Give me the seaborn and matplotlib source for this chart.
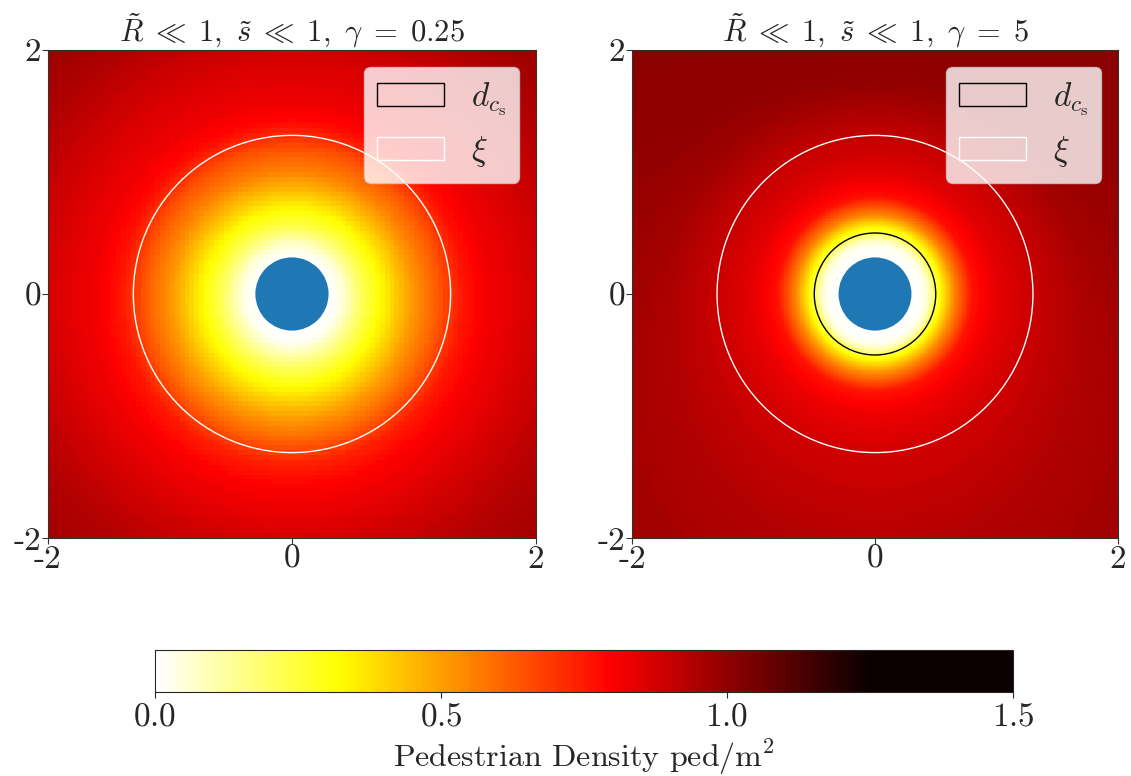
import matplotlib
matplotlib.use("Agg")
import matplotlib.pyplot as plt
import matplotlib.transforms as mtransforms
import numpy as np
import pandas as pd
import seaborn as sns
from matplotlib.colors import ListedColormap
from matplotlib.patches import Circle

# panel settings
titles = [
    r"$\tilde{R}\;\ll\;1,\ \tilde{s}\;\ll\;1,\ \gamma\;=\;0.25$",
    r"$\tilde{R}\;\ll\;1,\ \tilde{s}\;\ll\;1,\ \gamma\;=\;5$",
]
grid_sizes = [100, 300]
obstacle_radius = 0.3
xi_radius = [1.3, 1.3]
dcs_radius = [0.2, 0.5]

radius_low = [0.3, 0.4, 0.5, 0.6, 0.7, 0.8, 0.9, 1.0, 1.2, 1.4, 1.6, 2.0, 2.4, 2.9]
density_low_up = [0.0, 0.06, 0.17, 0.26, 0.33, 0.41, 0.48, 0.55, 0.65, 0.78, 0.83, 0.88, 0.94, 0.99]
density_low_down = [0.0, 0.02, 0.11, 0.20, 0.28, 0.35, 0.42, 0.49, 0.61, 0.74, 0.80, 0.87, 0.93, 0.97]

radius_high = [0.3, 0.4, 0.45, 0.5, 0.55, 0.65, 0.8, 1.0, 1.3, 1.7, 2.0, 2.9]
density_high_up = [0.0, 0.03, 0.10, 0.23, 0.34, 0.55, 0.77, 0.85, 0.91, 0.99, 1.01, 1.02]
density_high_down = [0.0, 0.02, 0.09, 0.23, 0.35, 0.54, 0.76, 0.83, 0.88, 0.91, 0.93, 0.97]

profiles = [
    (radius_low, density_low_up, density_low_down),
    (radius_high, density_high_up, density_high_down),
]

cbar_ticks = [0.0, 0.5, 1.0, 1.5]
cbar_label = "Pedestrian Density ped/m$^2$"


def density_field(n, radius, up, down):
    """Build the grid from the two radial profiles, blended by direction."""
    edges = np.linspace(-2, 2, n + 1)
    centers = (edges[:-1] + edges[1:]) / 2
    xx, yy = np.meshgrid(centers, centers[::-1])
    rr = np.hypot(xx, yy)
    w = 0.5 * (1 + yy / np.maximum(rr, 1e-9))
    field = w * np.interp(rr, radius, up) + (1 - w) * np.interp(rr, radius, down)
    return pd.DataFrame(field, index=np.round(centers[::-1], 3), columns=np.round(centers, 3))


sns.set_style("ticks")
plt.rcParams["font.family"] = "serif"
plt.rcParams["font.serif"] = ["cmr10", "DejaVu Serif"]
plt.rcParams["mathtext.fontset"] = "cm"
plt.rcParams["axes.unicode_minus"] = False
plt.rcParams["axes.formatter.use_mathtext"] = True

cmap = ListedColormap(plt.get_cmap("hot_r")(np.clip(np.linspace(0, 1, 256) / 0.835, 0, 1)))

fig = plt.figure(figsize=(11.31, 7.76), dpi=100)
axes = [
    fig.add_axes([0.0424, 0.3067, 0.4315, 0.6289]),
    fig.add_axes([0.5588, 0.3067, 0.4297, 0.6289]),
]

for i, ax in enumerate(axes):
    n = grid_sizes[i]
    df = density_field(n, *profiles[i])
    sns.heatmap(df, cmap=cmap, vmin=0, vmax=1.5, cbar=False,
                xticklabels=False, yticklabels=False, rasterized=True, ax=ax)
    for sp in ax.spines.values():
        sp.set_visible(True)
        sp.set_linewidth(0.8)
        sp.set_color("#333333")

    # map physical coordinates onto heatmap cell coordinates
    to_cells = mtransforms.Affine2D().scale(n / 4, -n / 4).translate(n / 2, n / 2) + ax.transData
    dcs = Circle((0, 0), dcs_radius[i], fill=False, edgecolor="black", linewidth=1.0,
                 transform=to_cells, zorder=3)
    xi = Circle((0, 0), xi_radius[i], fill=False, edgecolor="white", linewidth=1.0,
                transform=to_cells, zorder=3)
    obstacle = Circle((0, 0), obstacle_radius, facecolor="#1f77b4", edgecolor="none",
                      transform=to_cells, zorder=4)
    ax.add_patch(dcs)
    ax.add_patch(xi)
    ax.add_patch(obstacle)

    ax.set_xticks([0, n / 2, n])
    ax.set_xticklabels(["-2", "0", "2"], fontsize=24, rotation=0)
    ax.set_yticks([0, n / 2, n])
    ax.set_yticklabels(["2", "0", "-2"], fontsize=24, rotation=0)
    ax.tick_params(length=4, width=0.8, pad=1, color="#333333")
    ax.set_xlabel("")
    ax.set_ylabel("")
    ax.set_title(titles[i], fontsize=22, pad=4)
    leg = ax.legend(handles=[dcs, xi], labels=[r"$d_{c_\mathrm{s}}$", r"$\xi$"], loc="upper right",
                    fontsize=24, framealpha=0.8, fancybox=True)
    for h in leg.legend_handles:
        h.set_linewidth(1.0)

cax = fig.add_axes([0.137, 0.1082, 0.7586, 0.0541])
cb = fig.colorbar(axes[0].collections[0], cax=cax, orientation="horizontal")
cb.set_ticks(cbar_ticks)
cb.ax.tick_params(labelsize=24, length=4, width=0.8)
cb.set_label(cbar_label, fontsize=23)
cb.outline.set_linewidth(0.8)

fig.savefig("out.png", dpi=100)
